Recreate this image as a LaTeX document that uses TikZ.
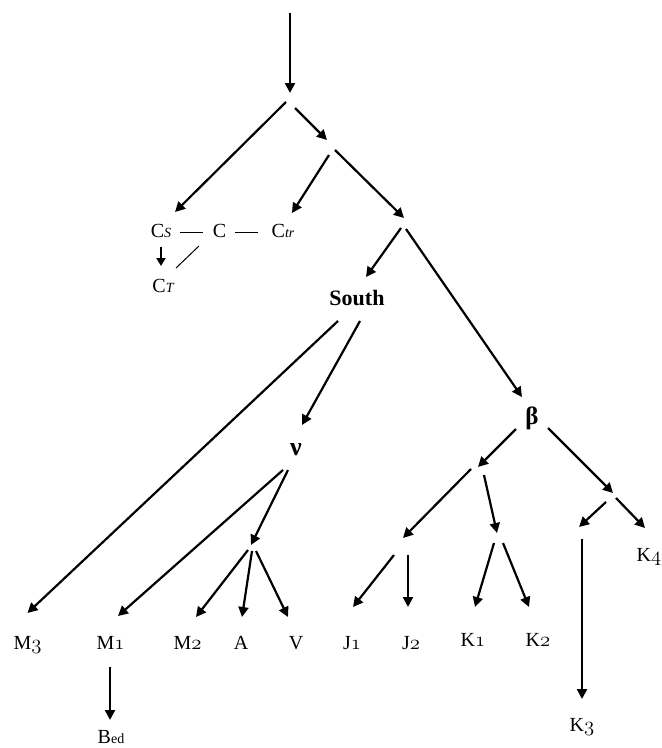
\documentclass[tikz,border=0pt]{standalone}
\usepackage{fontspec}
\setmainfont{Liberation Serif}
\newfontfamily\greekfont{Liberation Serif}
\usetikzlibrary{arrows.meta}
\newcommand\osn[1]{{\fontencoding{OML}\fontfamily{lmm}\fontseries{b}\fontshape{it}\selectfont #1}}
\newcommand\subit[1]{{\fontsize{14}{14}\selectfont\itshape #1}}
\newcommand\subrm[1]{{\fontsize{14}{14}\selectfont #1}}
\begin{document}
\begin{tikzpicture}[x=1pt,y=-1pt,
  lbl/.style={anchor=base,inner sep=0pt,font=\fontsize{20}{20}\selectfont},
  boldlbl/.style={lbl,font=\fontsize{22}{22}\selectfont\bfseries},
  greek/.style={anchor=base,inner sep=0pt,font=\fontsize{25}{25}\selectfont\greekfont\bfseries},
  arr/.style={line width=2.2pt,-{Triangle[length=10pt,width=10pt]}},
  smallarr/.style={line width=2.2pt,-{Triangle[length=8pt,width=9pt]}},
  thinline/.style={line width=1pt}]
\useasboundingbox (0,0) rectangle (662,748);
% junction points
\coordinate (top) at (290,13);
\coordinate (R) at (290,100);
\coordinate (N2) at (331,147);
\coordinate (N3) at (404,224);
\coordinate (AV) at (252,549);
\coordinate (JK) at (478,471);
\coordinate (Jh) at (405,545);
\coordinate (Kh) at (498,540);
\coordinate (RK) at (613,498);
\coordinate (K3h) at (581,533);
% labels
\node[lbl] (Cs) at (161,237) {C\subit{S}};
\node[lbl] (C) at (219.5,237) {C};
\node[lbl] (Ctr) at (283,237) {C\subit{tr}};
\node[lbl] (CT) at (163,292) {C\subit{T}};
\node[boldlbl] (South) at (357,305) {South};
\node[greek,font=\fontsize{26}{26}\selectfont\greekfont\bfseries] (nu) at (296,455) {ν};
\node[greek] (beta) at (532,424) {β};
\node[lbl] (M3) at (27.5,649) {M\osn{3}};
\node[lbl] (M1) at (110.5,649) {M\osn{1}};
\node[lbl] (M2) at (187.5,649) {M\osn{2}};
\node[lbl] (A) at (241,649) {A};
\node[lbl] (V) at (296,649) {V};
\node[lbl] (J1) at (352,649) {J\osn{1}};
\node[lbl] (J2) at (411,649) {J\osn{2}};
\node[lbl] (K1) at (473,646) {K\osn{1}};
\node[lbl] (K2) at (538,646) {K\osn{2}};
\node[lbl] (K3) at (582,731) {K\osn{3}};
\node[lbl] (K4) at (649,561) {K\osn{4}};
\node[lbl] (Bed) at (111,743) {B\subrm{ed}};
% connectors
\draw[arr] (top) -- ([shift={(0,-7)}]R);
\draw[arr] ([shift={(-4,2)}]R) -- ([shift={(14,-25)}]Cs.base);
\draw[arr] ([shift={(5,8)}]R) -- ([shift={(-4,-7)}]N2);
\draw[arr] ([shift={(-2,8)}]N2) -- ([shift={(9,-24)}]Ctr.base);
\draw[arr] ([shift={(4,3)}]N2) -- ([shift={(0,-6)}]N3);
\draw[arr] ([shift={(-3,4)}]N3) -- ([shift={(9,-28)}]South.base);
\draw[arr] ([shift={(2,5)}]N3) -- ([shift={(-10,-27)}]beta.base);
\draw[arr] ([shift={(-19,16)}]South.base) -- ([shift={(0,-36)}]M3.base);
\draw[arr] ([shift={(3,16)}]South.base) -- ([shift={(6,-30)}]nu.base);
\draw[arr] ([shift={(-13,15)}]nu.base) -- ([shift={(7.5,-33)}]M1.base);
\draw[arr] ([shift={(-8,15)}]nu.base) -- ([shift={(-1,-4)}]AV);
\draw[arr] ([shift={(-4,1)}]AV) -- ([shift={(8.5,-32)}]M2.base);
\draw[arr] ([shift={(0,2)}]AV) -- ([shift={(1,-32)}]A.base);
\draw[arr] ([shift={(4,2)}]AV) -- ([shift={(-8,-32)}]V.base);
\draw[arr] ([shift={(-0.5,18)}]M1.base) -- ([shift={(-1,-23)}]Bed.base);
\draw[arr] ([shift={(-16,5)}]beta.base) -- ([shift={(0,-4)}]JK);
\draw[arr] ([shift={(16,4)}]beta.base) -- ([shift={(0,-5)}]RK);
\draw[arr] ([shift={(-7,-2)}]JK) -- ([shift={(-2,-7)}]Jh);
\draw[arr] ([shift={(6,4)}]JK) -- ([shift={(-1,-7)}]Kh);
\draw[arr] ([shift={(-11,10)}]Jh) -- ([shift={(1,-42)}]J1.base);
\draw[arr] ([shift={(3,10)}]Jh) -- ([shift={(-3,-42)}]J2.base);
\draw[arr] ([shift={(-4,3)}]Kh) -- ([shift={(2,-39)}]K1.base);
\draw[arr] ([shift={(5,3)}]Kh) -- ([shift={(-9,-39)}]K2.base);
\draw[arr] ([shift={(-7,4)}]RK) -- ([shift={(-2,-6)}]K3h);
\draw[arr] ([shift={(3,0)}]RK) -- ([shift={(-4,-33)}]K4.base);
\draw[arr] ([shift={(1,6)}]K3h) -- ([shift={(0,-32)}]K3.base);
\draw[smallarr] ([shift={(0,10)}]Cs.base) -- ([shift={(-2,-26)}]CT.base);
\draw[thinline] ([shift={(-20.5,9)}]C.base) -- ([shift={(13,-24)}]CT.base);
\draw[thinline] ([shift={(19,-5)}]Cs.base) -- ([shift={(-16.5,-5)}]C.base);
\draw[thinline] ([shift={(15.5,-5)}]C.base) -- ([shift={(-25,-5)}]Ctr.base);
\end{tikzpicture}
\end{document}
